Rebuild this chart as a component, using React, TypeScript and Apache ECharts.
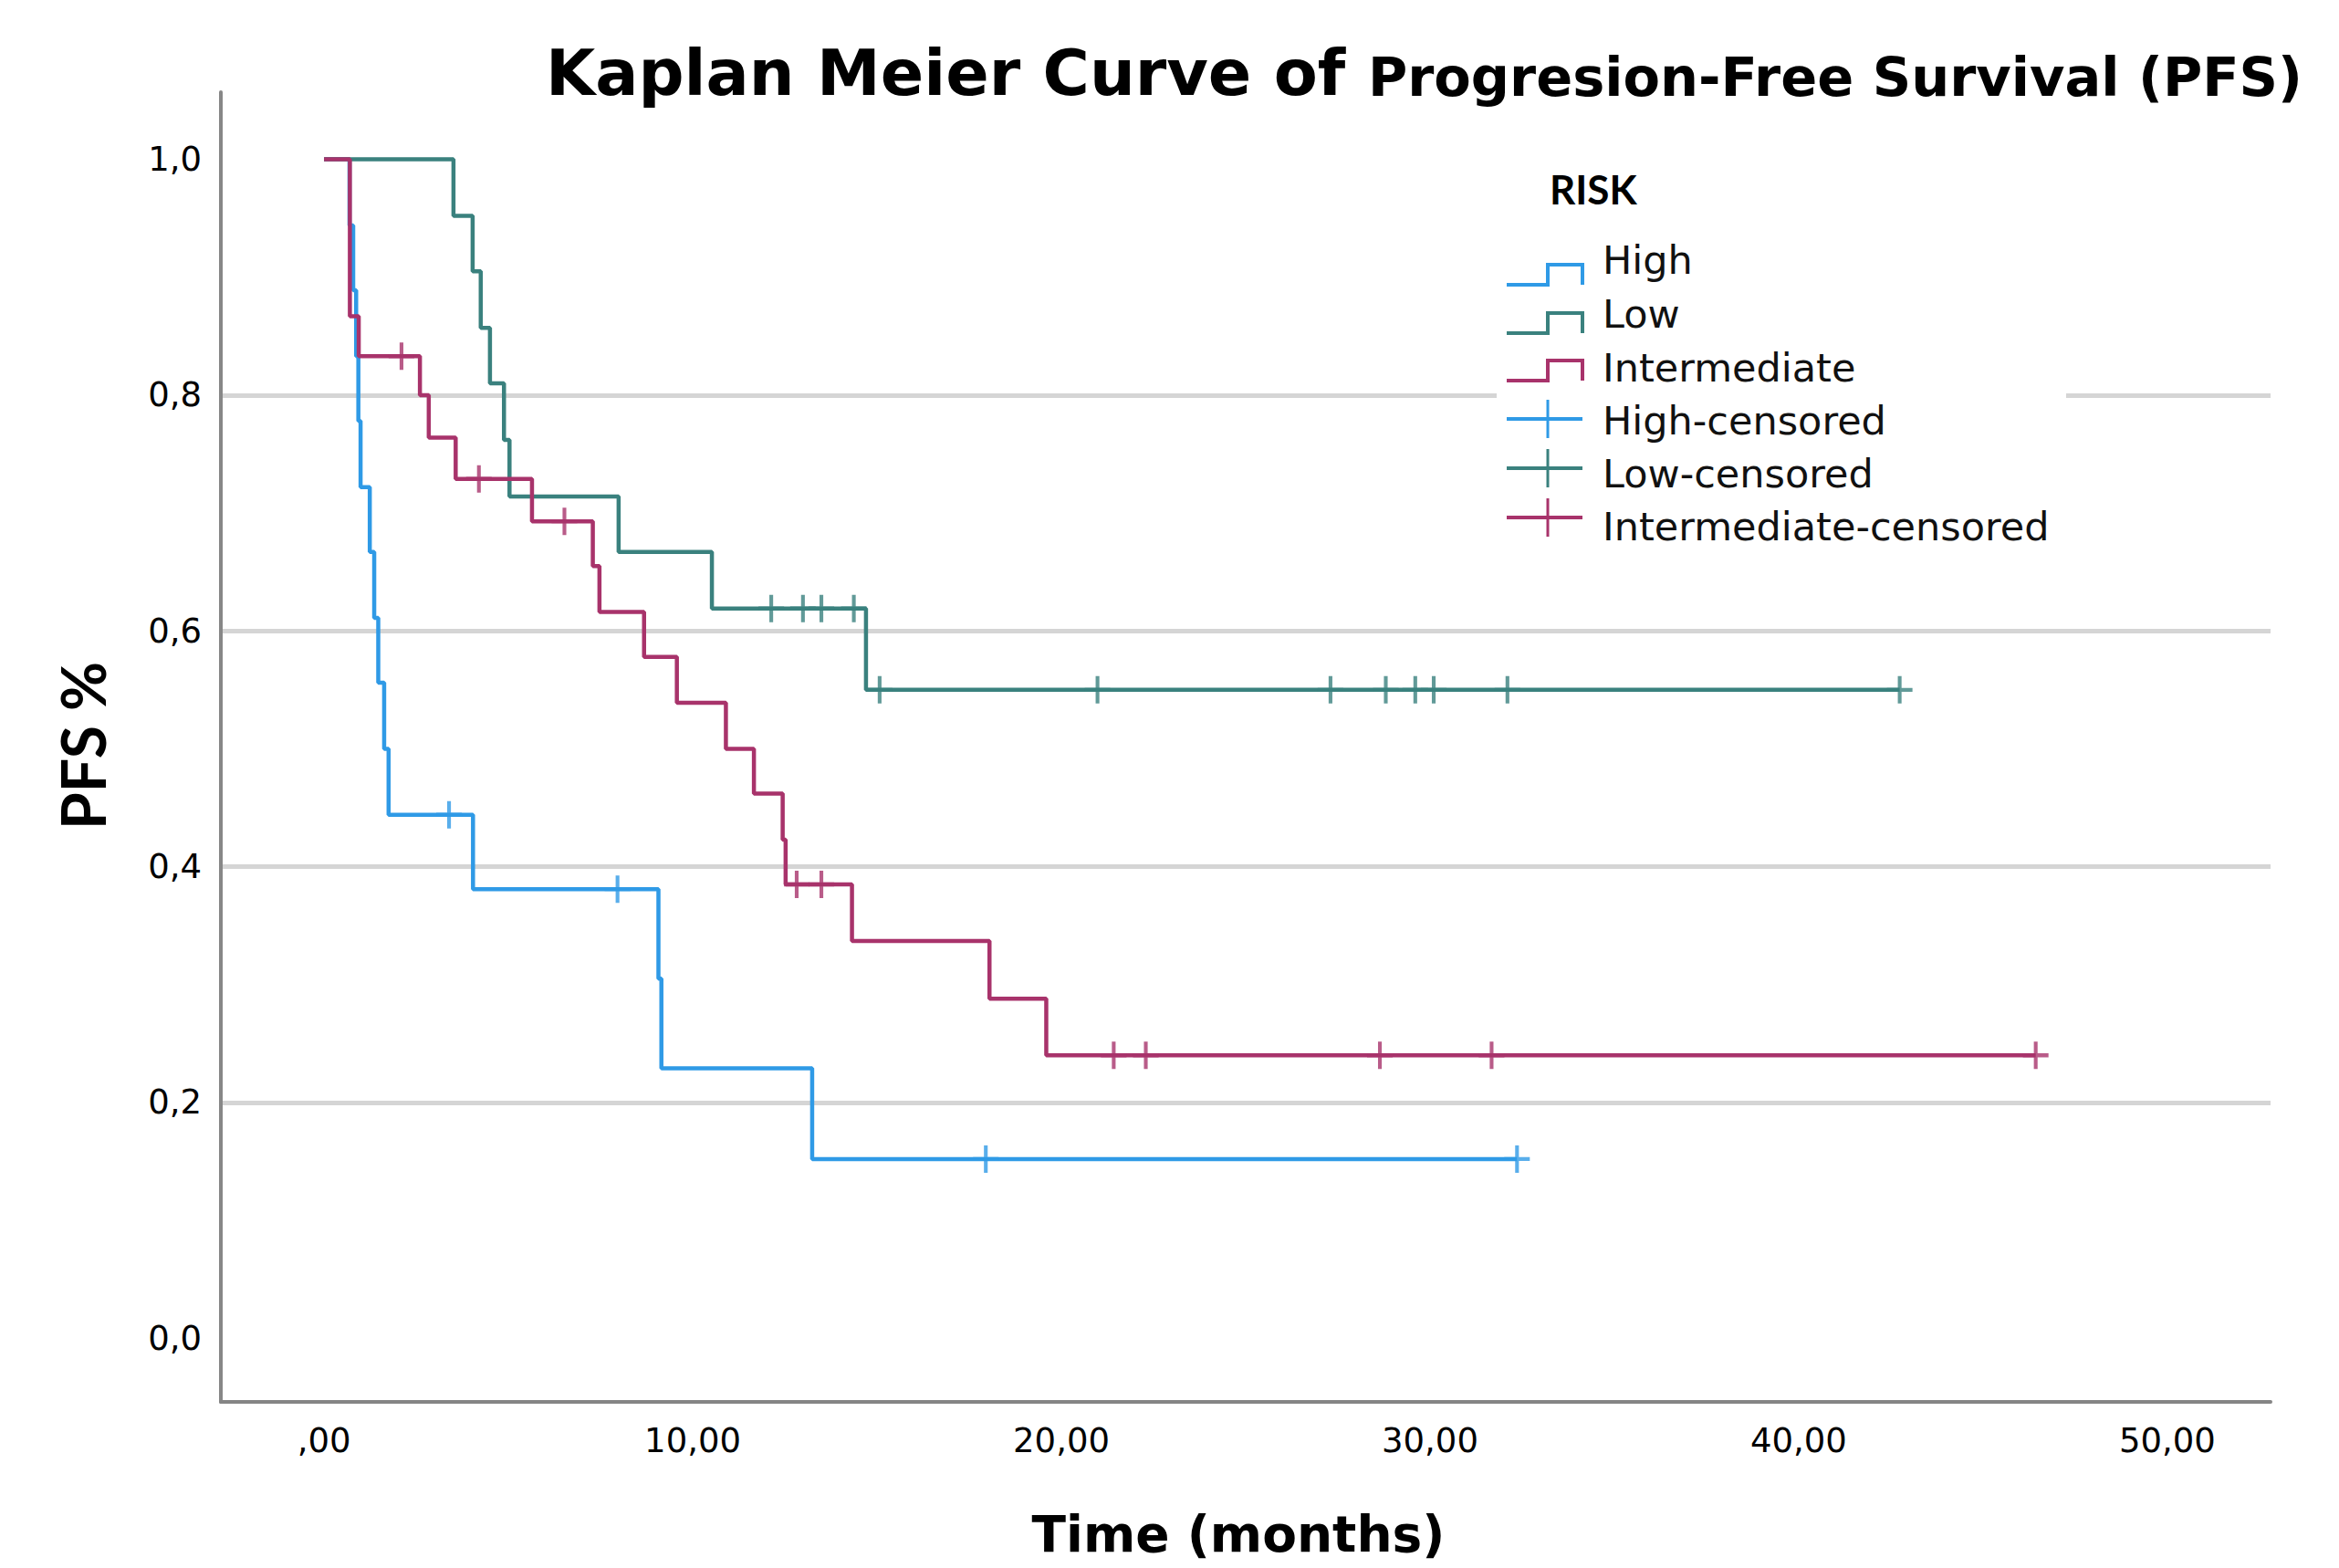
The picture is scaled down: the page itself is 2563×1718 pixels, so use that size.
import React, { useEffect, useRef } from "react";
import * as echarts from "echarts";

// ---------- data ----------
const xTickValues = [0, 10, 20, 30, 40, 50];
const yTickValues = [0, 0.2, 0.4, 0.6, 0.8, 1.0];

const highTimes = [0, 0.69, 0.79, 0.87, 0.93, 0.99, 1.24, 1.36, 1.47, 1.63, 1.75, 4.04, 9.07, 9.15, 13.24, 32.36];
const highSurv = [1, 0.944, 0.889, 0.833, 0.778, 0.722, 0.667, 0.611, 0.556, 0.5, 0.444, 0.381, 0.305, 0.229, 0.152, 0.152];
const highCensorTimes = [3.39, 7.96, 17.95, 32.36];
const highCensorSurv = [0.444, 0.381, 0.152, 0.152];

const lowTimes = [0, 3.51, 4.03, 4.25, 4.5, 4.88, 5.03, 7.99, 10.52, 14.7, 42.74];
const lowSurv = [1, 0.952, 0.905, 0.857, 0.81, 0.762, 0.714, 0.667, 0.619, 0.55, 0.55];
const lowCensorTimes = [12.13, 12.99, 13.49, 14.37, 15.07, 20.98, 27.3, 28.8, 29.6, 30.1, 32.1, 42.74];
const lowCensorSurv = [0.619, 0.619, 0.619, 0.619, 0.55, 0.55, 0.55, 0.55, 0.55, 0.55, 0.55, 0.55];

const intTimes = [0, 0.7, 0.94, 2.6, 2.84, 3.57, 5.64, 7.29, 7.47, 8.68, 9.57, 10.9, 11.66, 12.44, 12.52, 14.32, 18.05, 19.59, 46.43];
const intSurv = [1, 0.867, 0.833, 0.8, 0.764, 0.729, 0.693, 0.655, 0.616, 0.578, 0.539, 0.5, 0.462, 0.423, 0.385, 0.337, 0.288, 0.24, 0.24];
const intCensorTimes = [2.1, 4.2, 6.52, 12.82, 13.49, 21.42, 22.29, 28.64, 31.67, 46.43];
const intCensorSurv = [0.833, 0.729, 0.693, 0.385, 0.385, 0.24, 0.24, 0.24, 0.24, 0.24];

const legendTitle = "RISK";
const legendLabels = ["High", "Low", "Intermediate", "High-censored", "Low-censored", "Intermediate-censored"];

const titleMain = "Kaplan Meier Curve of";
const titleRest = "Progresion-Free Survival (PFS)";
const yName = "PFS %";
const xName = "Time (months)";

// ---------- styles ----------
const HIGH = "#2f9ae6";
const LOW = "#3a817e";
const INTER = "#a8336b";
const TICK_FONT = "DejaVu Sans";
const TITLE_FONT = "DejaVu Sans";
const CROSS = "path://M0,12.8 L30,12.8 L30,17.2 L0,17.2 Z M12.8,0 L17.2,0 L17.2,30 L12.8,30 Z";

const zip = (a: number[], b: number[]) => a.map((t, i) => [t, b[i]]);

function stepLine(name: string, color: string, times: number[], surv: number[], z: number) {
  return {
    name,
    type: "line",
    step: "end",
    symbol: "none",
    showSymbol: false,
    data: zip(times, surv),
    lineStyle: { color, width: 4.5 },
    itemStyle: { color },
    z,
  };
}

function censorSeries(name: string, color: string, times: number[], surv: number[]) {
  return {
    name,
    type: "scatter",
    symbol: CROSS,
    symbolSize: [28, 30],
    data: zip(times, surv),
    itemStyle: { color },
    z: 5,
  };
}

export default function App() {
  const ref = useRef<HTMLDivElement>(null);

  useEffect(() => {
    if (!ref.current) return;
    const chart = echarts.init(ref.current, undefined, { renderer: "svg" });

    const legendColors = [HIGH, LOW, INTER, HIGH, LOW, INTER];
    const textY = [285, 344, 403, 461, 519, 577];
    const iconY = [301, 354, 406, 459, 513, 567];
    const legendGraphics: any[] = [];
    legendLabels.forEach((lab, i) => {
      const c = legendColors[i];
      const y = iconY[i];
      if (i < 3) {
        legendGraphics.push({
          type: "polyline",
          z: 10,
          shape: { points: [[1651, y + 11], [1696, y + 11], [1696, y - 11], [1734, y - 11], [1734, y + 11]] },
          style: { stroke: c, lineWidth: 4, fill: null },
        });
      } else {
        legendGraphics.push({
          type: "line",
          z: 10,
          shape: { x1: 1651, y1: y, x2: 1734, y2: y },
          style: { stroke: c, lineWidth: 4 },
        });
        legendGraphics.push({
          type: "line",
          z: 10,
          shape: { x1: 1696, y1: y - 21, x2: 1696, y2: y + 21 },
          style: { stroke: c, lineWidth: 3 },
        });
      }
      legendGraphics.push({
        type: "text",
        z: 10,
        x: 1756,
        y: textY[i],
        style: {
          text: lab,
          fill: "#111",
          font: `43px "${TICK_FONT}"`,
          align: "left",
          verticalAlign: "middle",
        },
      });
    });

    const option: any = {
      animation: false,
      backgroundColor: "#ffffff",
      grid: { left: 242, right: 75, top: 101, bottom: 182, containLabel: false },
      xAxis: {
        type: "value",
        min: -2.8,
        max: 52.8,
        axisLine: { show: true, onZero: false, lineStyle: { color: "#858585", width: 4 } },
        axisTick: { show: false, customValues: xTickValues },
        splitLine: { show: false },
        axisLabel: {
          customValues: xTickValues,
          formatter: (v: number) => (v === 0 ? ",00" : v.toFixed(2).replace(".", ",")),
          fontFamily: TICK_FONT,
          fontSize: 37,
          color: "#000",
          margin: 24,
        },
      },
      yAxis: {
        type: "value",
        min: -0.054,
        max: 1.057,
        axisLine: { show: true, onZero: false, lineStyle: { color: "#878787", width: 4 } },
        axisTick: { show: false, customValues: yTickValues },
        splitLine: {
          show: true,
          showMinLine: false,
          showMaxLine: false,
          lineStyle: { color: "#d5d5d5", width: 5 },
        },
        axisLabel: {
          customValues: yTickValues,
          formatter: (v: number) => v.toFixed(1).replace(".", ","),
          fontFamily: TICK_FONT,
          fontSize: 37,
          color: "#000",
          margin: 21,
        },
      },
      series: [
        stepLine("High", HIGH, highTimes, highSurv, 2),
        stepLine("Low", LOW, lowTimes, lowSurv, 3),
        stepLine("Intermediate", INTER, intTimes, intSurv, 4),
        censorSeries("High-censored", HIGH, highCensorTimes, highCensorSurv),
        censorSeries("Low-censored", LOW, lowCensorTimes, lowCensorSurv),
        censorSeries("Intermediate-censored", INTER, intCensorTimes, intCensorSurv),
      ],
      graphic: [
        {
          type: "rect",
          z: 1,
          shape: { x: 1640, y: 185, width: 624, height: 420 },
          style: { fill: "#ffffff" },
        },
        {
          type: "text",
          z: 10,
          x: 598,
          y: 80,
          style: {
            text: titleMain,
            fill: "#000",
            font: `bold 70px "${TITLE_FONT}"`,
            align: "left",
            verticalAlign: "middle",
          },
        },
        {
          type: "text",
          z: 10,
          x: 1499,
          y: 84,
          style: {
            text: titleRest,
            fill: "#000",
            font: `bold 59px "${TITLE_FONT}"`,
            align: "left",
            verticalAlign: "middle",
          },
        },
        {
          type: "text",
          z: 10,
          x: 1698,
          y: 207,
          style: {
            text: legendTitle,
            fill: "#000",
            font: `bold 44px "Lato"`,
            align: "left",
            verticalAlign: "middle",
          },
        },
        {
          type: "text",
          z: 10,
          x: 90,
          y: 817,
          rotation: Math.PI / 2,
          style: {
            text: yName,
            fill: "#000",
            font: `bold 66px "Lato"`,
            align: "center",
            verticalAlign: "middle",
          },
        },
        {
          type: "text",
          z: 10,
          x: 1357,
          y: 1681,
          style: {
            text: xName,
            fill: "#000",
            font: `bold 55px "${TITLE_FONT}"`,
            align: "center",
            verticalAlign: "middle",
          },
        },
        ...legendGraphics,
      ],
    };

    chart.setOption(option);
    return () => chart.dispose();
  }, []);

  return (
    <div
      ref={ref}
      style={{ position: "fixed", left: 0, top: 0, width: "2563px", height: "1718px", background: "#fff" }}
    />
  );
}
